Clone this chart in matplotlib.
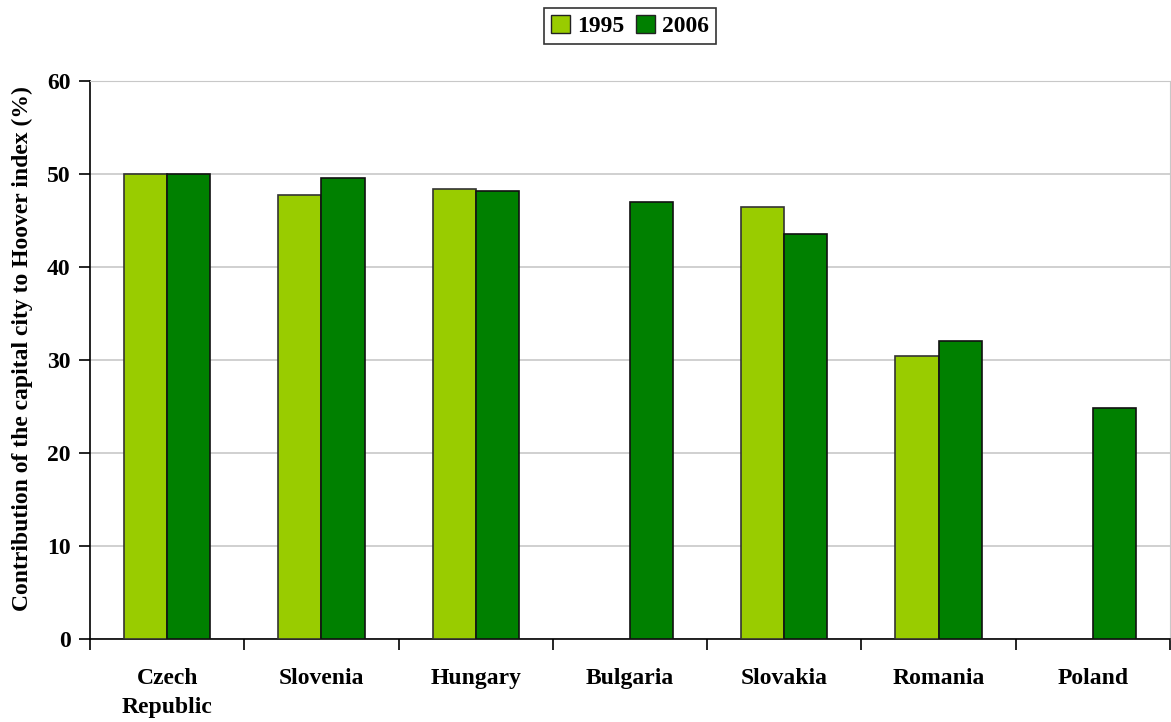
import numpy as np
import matplotlib.pyplot as plt
from matplotlib.patches import Patch

countries = ['Czech\nRepublic', 'Slovenia', 'Hungary', 'Bulgaria', 'Slovakia', 'Romania', 'Poland']
share_1995 = [50.0, 47.7, 48.4, np.nan, 46.5, 30.4, np.nan]
share_2006 = [50.0, 49.6, 48.2, 47.0, 43.5, 32.0, 24.8]

light_green = '#99cc00'
dark_green = '#008000'

plt.rcParams['font.family'] = ['Liberation Serif', 'DejaVu Serif']
plt.rcParams['font.weight'] = 'bold'

fig = plt.figure(figsize=(11.71, 7.22), dpi=100)
ax = fig.add_axes([90 / 1171, 83 / 722, 1080 / 1171, 558 / 722])

x = np.arange(len(countries))
w = 0.28
ax.bar(x - w / 2, share_1995, w, color=light_green, edgecolor='#333333', linewidth=1.2, zorder=3)
ax.bar(x + w / 2, share_2006, w, color=dark_green, edgecolor='#111111', linewidth=1.2, zorder=3)

ax.set_xlim(-0.5, len(countries) - 0.5)
ax.set_ylim(0, 60)
ax.set_yticks(range(0, 61, 10))
ax.yaxis.grid(True, color='#c8c8c8', linewidth=1.2, zorder=0)

# category labels centred, tick marks on the boundaries
ax.set_xticks(x)
ax.set_xticklabels(countries, fontsize=17, fontweight='bold', va='top', linespacing=1.5)
ax.tick_params(axis='x', length=0, pad=21)
ax.set_xticks(np.arange(-0.5, len(countries)), minor=True)
ax.tick_params(axis='x', which='minor', length=8, width=1.2, direction='out')
ax.tick_params(axis='y', length=8, width=1.2, direction='out', labelsize=17, pad=6)
for lbl in ax.get_yticklabels():
    lbl.set_fontweight('bold')

for side in ['top', 'right']:
    ax.spines[side].set_color('#c8c8c8')
ax.spines['left'].set_linewidth(1.2)
ax.spines['bottom'].set_linewidth(1.2)

ax.set_ylabel('Contribution of the capital city to Hoover index (%)', fontsize=17,
              fontweight='bold')
ax.yaxis.set_label_coords(-0.053, 0.52)

handles = [Patch(facecolor=light_green, edgecolor='#222222', label='1995'),
           Patch(facecolor=dark_green, edgecolor='#222222', label='2006')]
leg = fig.legend(handles=handles, loc='center', bbox_to_anchor=(630 / 1171, 1 - 26 / 722),
                 ncol=2, frameon=True, fancybox=False, edgecolor='black',
                 prop={'size': 17, 'weight': 'bold'}, handlelength=0.8, handleheight=0.8,
                 handletextpad=0.3, columnspacing=0.5, borderpad=0.3)
leg.get_frame().set_linewidth(1.2)

fig.savefig('out.png', dpi=100)
